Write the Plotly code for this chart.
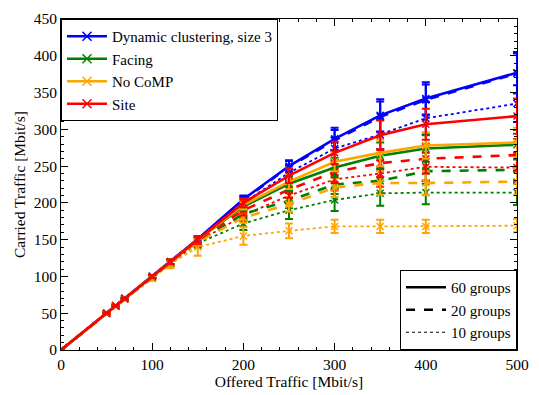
import plotly.graph_objects as go

offered = [0, 50, 60, 70, 100, 120, 150, 200, 250, 300, 350, 400, 500]

schemes = ["Dynamic clustering, size 3", "Facing", "No CoMP", "Site"]
scheme_colors = ["#0000ff", "#008000", "#ffa500", "#ff0000"]
group_labels = ["60 groups", "20 groups", "10 groups"]
group_dash = ["solid", "dash", "dot"]

# carried traffic values [Mbit/s] per scheme and group count
dyn_60 = [0, 50, 60, 70, 100, 120, 151, 205, 250, 287, 319, 342, 377]
dyn_20 = [0, 50, 60, 70, 100, 120, 150, 204, 249, 285, 317, 340, 376]
dyn_10 = [0, 50, 60, 70, 100, 120, 150, 200, 241, 274, 293, 315, 335]
fac_60 = [0, 50, 60, 70, 100, 120, 150, 195, 226, 248, 264, 274, 279]
fac_20 = [0, 50, 60, 70, 100, 119, 148, 185, 203, 225, 230, 243, 245]
fac_10 = [0, 50, 60, 70, 99, 118, 145, 172, 190, 204, 213, 214, 214]
nocomp_60 = [0, 50, 60, 70, 100, 120, 150, 197, 229, 256, 268, 278, 282]
nocomp_20 = [0, 50, 60, 70, 100, 119, 147, 180, 198, 221, 227, 227, 229]
nocomp_10 = [0, 50, 60, 69, 97, 117, 140, 155, 162, 168, 168, 168, 169]
site_60 = [0, 50, 60, 70, 100, 120, 150, 200, 237, 268, 292, 307, 318]
site_20 = [0, 50, 60, 70, 100, 120, 149, 190, 218, 242, 254, 260, 265]
site_10 = [0, 50, 60, 70, 100, 119, 147, 183, 210, 232, 240, 249, 248]

# error bar half-widths
err_dyn_60 = [0, 1, 1, 1, 2, 3, 4, 5, 8, 15, 22, 22, 28]
err_dyn_20 = [0, 1, 1, 1, 2, 3, 4, 5, 8, 14, 21, 21, 27]
err_dyn_10 = [0, 1, 1, 1, 2, 3, 4, 6, 10, 15, 20, 22, 25]
err_fac_60 = [0, 1, 1, 1, 2, 3, 4, 6, 10, 13, 18, 18, 20]
err_fac_20 = [0, 1, 1, 1, 2, 3, 5, 7, 10, 13, 17, 17, 19]
err_fac_10 = [0, 1, 1, 1, 2, 4, 6, 9, 12, 15, 17, 16, 17]
err_nocomp_60 = [0, 1, 1, 1, 2, 3, 4, 6, 10, 13, 18, 18, 20]
err_nocomp_20 = [0, 1, 1, 1, 2, 3, 5, 7, 10, 13, 16, 16, 18]
err_nocomp_10 = [0, 1, 1, 2, 3, 6, 12, 12, 10, 9, 9, 9, 9]
err_site_60 = [0, 1, 1, 1, 2, 3, 4, 6, 10, 15, 20, 21, 24]
err_site_20 = [0, 1, 1, 1, 2, 3, 5, 7, 11, 15, 19, 20, 22]
err_site_10 = [0, 1, 1, 1, 2, 3, 5, 8, 12, 15, 18, 19, 20]

values = {
    (0, 0): (dyn_60, err_dyn_60), (0, 1): (dyn_20, err_dyn_20), (0, 2): (dyn_10, err_dyn_10),
    (1, 0): (fac_60, err_fac_60), (1, 1): (fac_20, err_fac_20), (1, 2): (fac_10, err_fac_10),
    (2, 0): (nocomp_60, err_nocomp_60), (2, 1): (nocomp_20, err_nocomp_20), (2, 2): (nocomp_10, err_nocomp_10),
    (3, 0): (site_60, err_site_60), (3, 1): (site_20, err_site_20), (3, 2): (site_10, err_site_10),
}

FONT = "Liberation Serif"
FS = 15.5
fig = go.Figure()

line_w = {"solid": 2.6, "dash": 2.6, "dot": 1.8}
for g in [2, 1, 0]:
    for s in range(4):
        y, e = values[(s, g)]
        c = scheme_colors[s]
        fig.add_trace(go.Scatter(
            x=offered, y=y, mode="lines+markers",
            line=dict(color=c, width=line_w[group_dash[g]], dash=group_dash[g]),
            marker=dict(symbol="x-thin", size=7, color=c, line=dict(color=c, width=1.5)),
            error_y=dict(type="data", array=e, visible=True, color=c, thickness=2, width=4),
            showlegend=False,
        ))

# scheme legend
for s in range(4):
    c = scheme_colors[s]
    fig.add_trace(go.Scatter(
        x=[None], y=[None], mode="lines+markers", name=schemes[s],
        line=dict(color=c, width=2.6),
        marker=dict(symbol="x-thin", size=9, color=c, line=dict(color=c, width=1.5)),
        legend="legend",
    ))
# group legend
for g in range(3):
    fig.add_trace(go.Scatter(
        x=[None], y=[None], mode="lines", name=group_labels[g],
        line=dict(color="black", width=2.4 if g < 2 else 1.2, dash=group_dash[g]),
        legend="legend2",
    ))

axis_common = dict(
    showline=True, linecolor="black", linewidth=1, mirror="allticks",
    ticks="inside", ticklen=7, tickcolor="black", showgrid=False, zeroline=False,
    tickfont=dict(family=FONT, size=FS, color="black"),
)
fig.update_xaxes(range=[0, 500], dtick=100, tick0=0,
                 title=dict(text="Offered Traffic [Mbit/s]", font=dict(family=FONT, size=FS, color="black"), standoff=2),
                 minor=dict(ticks="inside", dtick=20, ticklen=3, tickcolor="black"),
                 **axis_common)
fig.update_yaxes(range=[0, 450], dtick=50, tick0=0,
                 title=dict(text="Carried Traffic [Mbit/s]", font=dict(family=FONT, size=FS, color="black"), standoff=4),
                 minor=dict(ticks="inside", dtick=10, ticklen=3, tickcolor="black"),
                 **axis_common)

fig.update_layout(
    width=539, height=395,
    margin=dict(l=61, r=13, t=10, b=45),
    plot_bgcolor="white", paper_bgcolor="white",
    font=dict(family=FONT, size=FS, color="black"),
    legend=dict(x=0, y=1, xanchor="left", yanchor="top", bgcolor="white",
                bordercolor="black", borderwidth=1, font=dict(family=FONT, size=15),
                itemwidth=40),
    legend2=dict(x=1, y=0, xanchor="right", yanchor="bottom", bgcolor="white",
                 bordercolor="black", borderwidth=1, font=dict(family=FONT, size=15),
                 itemwidth=40),
)

fig.write_html("out.html")
